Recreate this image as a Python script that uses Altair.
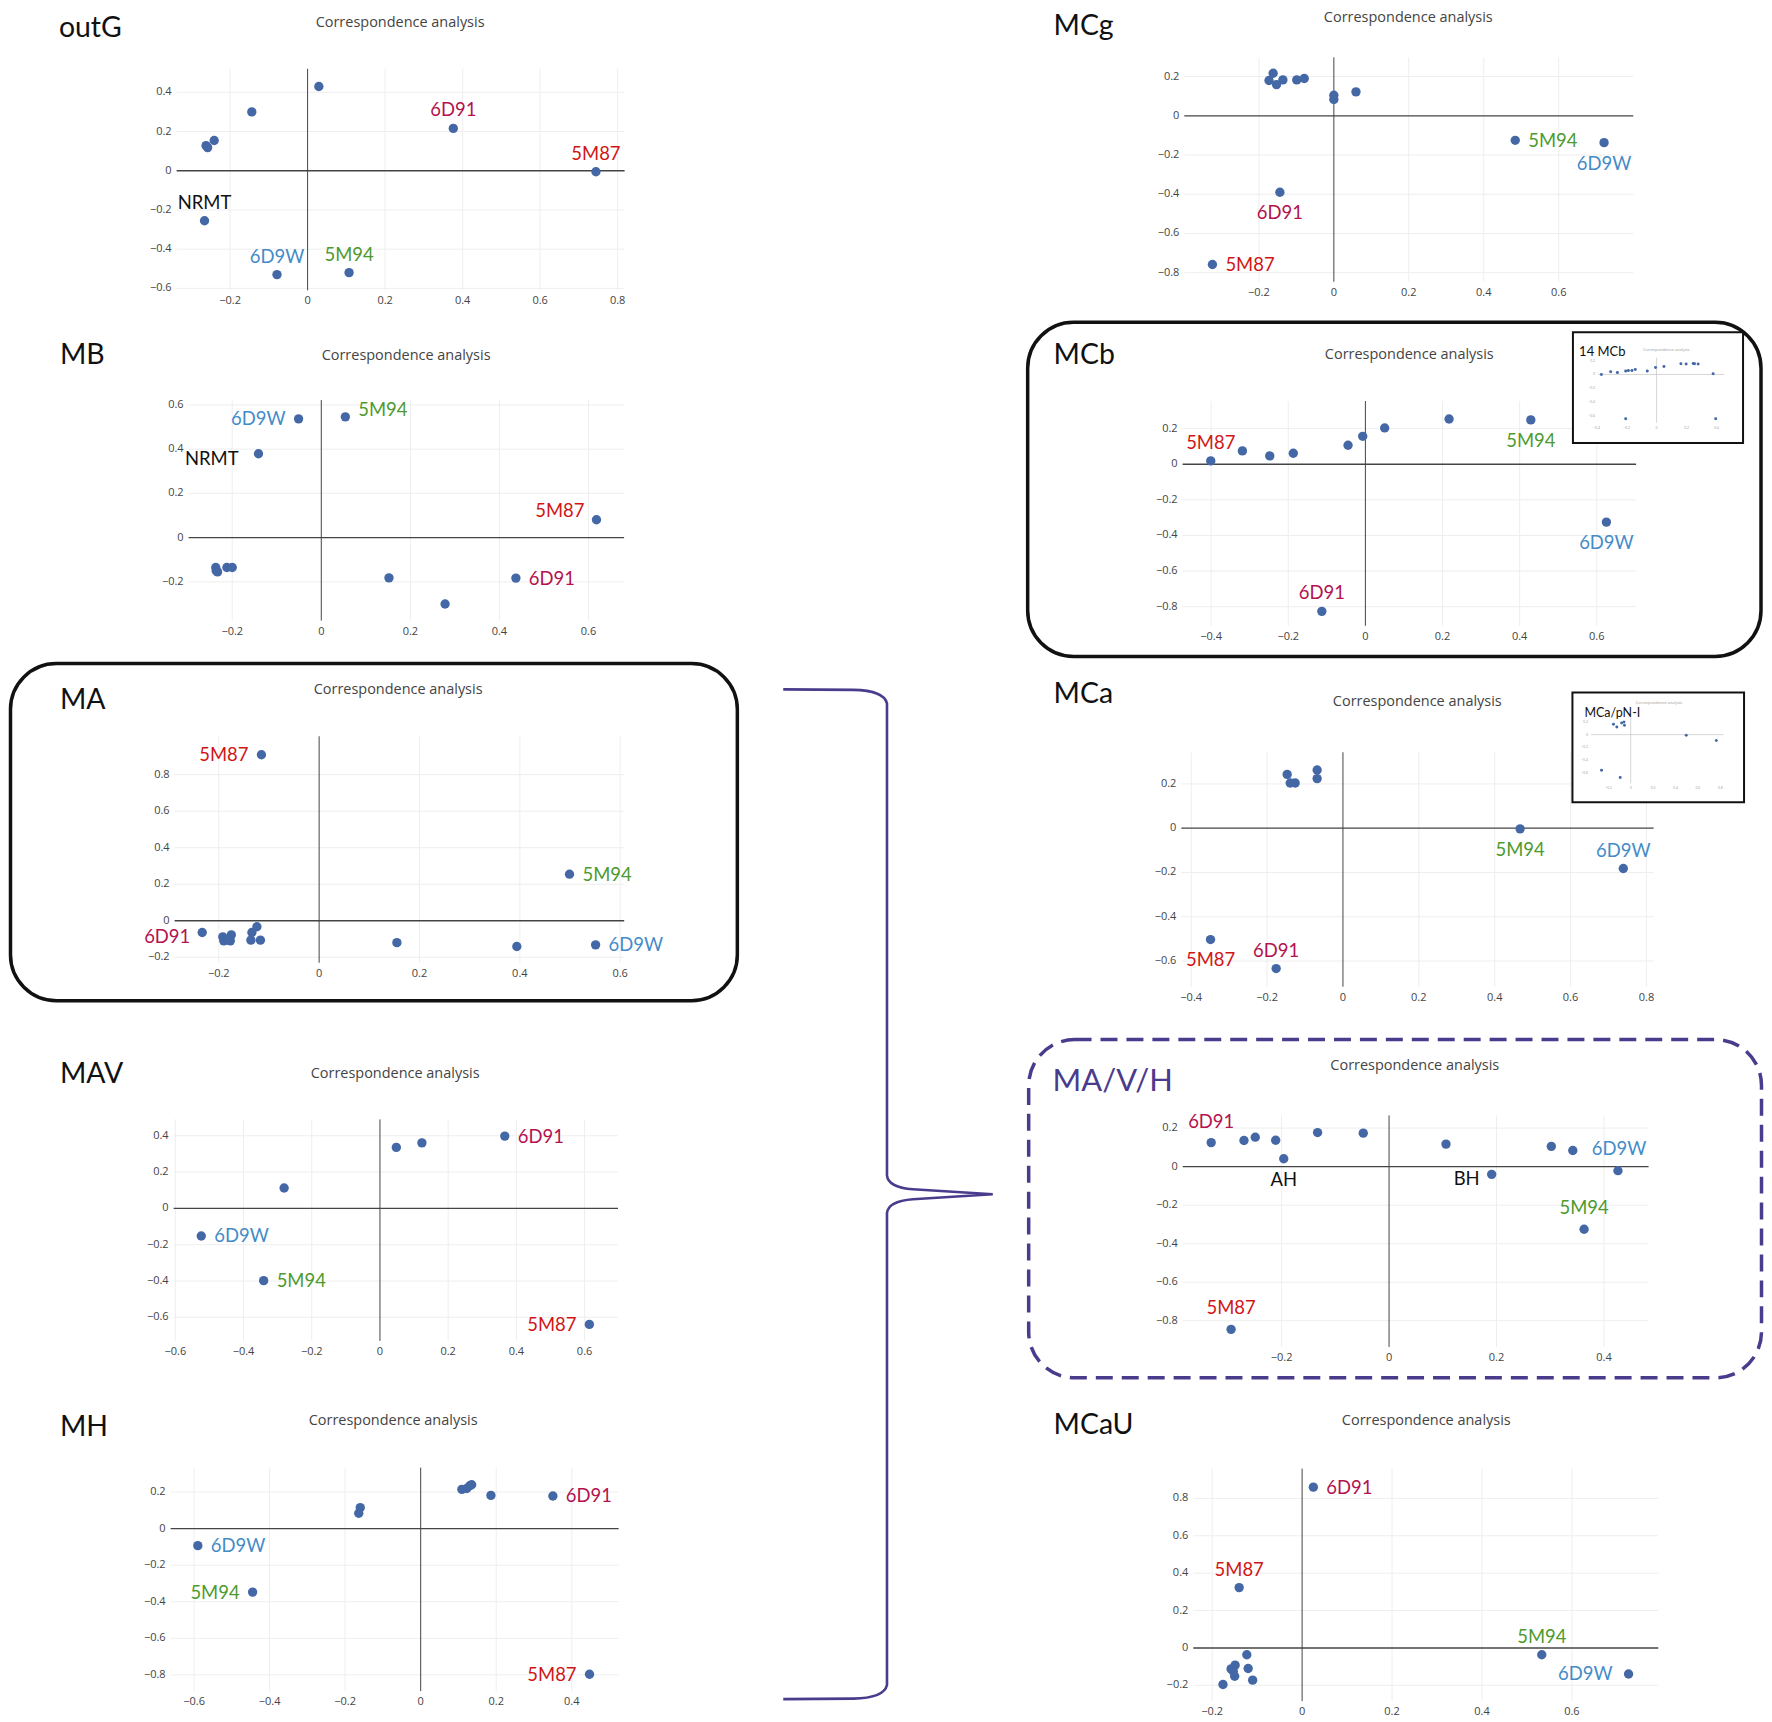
import altair as alt
import pandas as pd

# ---------------- data ----------------
outG_x = [0.029, -0.144, -0.241, -0.262, -0.258, 0.376, 0.744, -0.266, -0.079, 0.107]
outG_y = [0.430, 0.300, 0.154, 0.128, 0.118, 0.216, -0.005, -0.255, -0.530, -0.520]
outG_lab = ["", "", "", "", "", "6D91", "5M87", "NRMT", "6D9W", "5M94"]
outG_pos = ["", "", "", "", "", "t", "t", "t", "t", "t"]

MB_x = [-0.051, 0.054, -0.141, 0.618, -0.237, -0.236, -0.233, -0.212, -0.200, 0.152, 0.437, 0.278]
MB_y = [0.537, 0.546, 0.379, 0.081, -0.135, -0.150, -0.155, -0.135, -0.135, -0.182, -0.183, -0.300]
MB_lab = ["6D9W", "5M94", "NRMT", "5M87", "", "", "", "", "", "", "6D91", ""]
MB_pos = ["l", "ru", "lfar", "lu", "", "", "", "", "", "", "r", ""]

MA_x = [-0.115, 0.499, 0.551, 0.394, 0.155, -0.233, -0.192, -0.190, -0.175, -0.177, -0.124, -0.134, -0.136, -0.117]
MA_y = [0.909, 0.255, -0.132, -0.141, -0.120, -0.064, -0.088, -0.110, -0.077, -0.110, -0.033, -0.064, -0.106, -0.106]
MA_lab = ["5M87", "5M94", "6D9W", "", "", "6D91", "", "", "", "", "", "", "", ""]
MA_pos = ["l", "r", "r", "", "", "ld", "", "", "", "", "", "", "", ""]

MAV_x = [0.048, 0.123, 0.366, -0.281, -0.524, -0.341, 0.614]
MAV_y = [0.336, 0.361, 0.398, 0.112, -0.152, -0.398, -0.639]
MAV_lab = ["", "", "6D91", "", "6D9W", "5M94", "5M87"]
MAV_pos = ["", "", "r", "", "r", "r", "l"]

MH_x = [0.109, 0.122, 0.130, 0.135, 0.186, 0.350, -0.160, -0.164, -0.590, -0.445, 0.447]
MH_y = [0.215, 0.220, 0.235, 0.240, 0.182, 0.179, 0.115, 0.084, -0.093, -0.347, -0.797]
MH_lab = ["", "", "", "", "", "6D91", "", "", "6D9W", "5M94", "5M87"]
MH_pos = ["", "", "", "", "", "r", "", "", "r", "l", "l"]

MCg_x = [-0.162, -0.173, -0.153, -0.136, -0.099, -0.079, 0.000, 0.000, 0.059, 0.484, 0.721, -0.144, -0.324]
MCg_y = [0.217, 0.180, 0.159, 0.183, 0.183, 0.190, 0.105, 0.083, 0.122, -0.125, -0.137, -0.390, -0.758]
MCg_lab = ["", "", "", "", "", "", "", "", "", "5M94", "6D9W", "6D91", "5M87"]
MCg_pos = ["", "", "", "", "", "", "", "", "", "r", "b", "b", "r"]

MCb_x = [-0.401, -0.319, -0.248, -0.187, -0.045, -0.007, 0.050, 0.217, 0.429, 0.625, -0.113]
MCb_y = [0.019, 0.075, 0.047, 0.062, 0.107, 0.157, 0.204, 0.254, 0.249, -0.325, -0.826]
MCb_lab = ["5M87", "", "", "", "", "", "", "", "5M94", "6D9W", "6D91"]
MCb_pos = ["t", "", "", "", "", "", "", "", "b", "b", "t"]

MCa_x = [-0.147, -0.139, -0.126, -0.068, -0.068, 0.467, 0.739, -0.349, -0.176]
MCa_y = [0.243, 0.204, 0.204, 0.263, 0.224, -0.003, -0.182, -0.503, -0.634]
MCa_lab = ["", "", "", "", "", "5M94", "6D9W", "5M87", "6D91"]
MCa_pos = ["", "", "", "", "", "b", "t", "b", "t"]

MAVH_x = [-0.331, -0.270, -0.249, -0.211, -0.196, -0.133, -0.048, 0.106, 0.191, 0.302, 0.342, 0.426, 0.363, -0.294]
MAVH_y = [0.125, 0.136, 0.153, 0.137, 0.041, 0.177, 0.174, 0.117, -0.040, 0.105, 0.084, -0.021, -0.325, -0.845]
MAVH_lab = ["6D91", "", "", "", "AH", "", "", "", "BH", "", "6D9W", "", "5M94", "5M87"]
MAVH_pos = ["t2", "", "", "", "b", "", "", "", "ld", "", "r2", "", "t2", "t2"]

MCaU_x = [0.025, -0.140, 0.533, 0.726, -0.123, -0.158, -0.149, -0.150, -0.120, -0.110, -0.176, -0.153]
MCaU_y = [0.860, 0.323, -0.036, -0.139, -0.036, -0.112, -0.092, -0.151, -0.110, -0.172, -0.195, -0.125]
MCaU_lab = ["6D91", "5M87", "5M94", "6D9W", "", "", "", "", "", "", "", ""]
MCaU_pos = ["r", "t", "t", "l2", "", "", "", "", "", "", "", ""]

# inset thumbnails
inMCb_x = [-0.368, -0.306, -0.261, -0.206, -0.188, -0.164, -0.142, -0.062, -0.007, 0.049, 0.162, 0.197, 0.244, 0.253, 0.277, 0.377, -0.206, 0.394]
inMCb_y = [0.000, 0.038, 0.029, 0.048, 0.057, 0.057, 0.072, 0.048, 0.100, 0.115, 0.153, 0.149, 0.158, 0.153, 0.149, 0.010, -0.637, -0.637]
inMCa_x = [-0.154, -0.124, -0.081, -0.060, -0.056, 0.496, 0.765, -0.261, -0.094]
inMCa_y = [0.162, 0.120, 0.183, 0.199, 0.146, -0.010, -0.094, -0.560, -0.675]

TITLE = "Correspondence analysis"

# ---------------- styles / layout ----------------
LBL_FONT = "Lato"
AX_FONT = "Open Sans"
PT = "#4468a6"
ZERO = "#444444"
GRID = "#eeeeee"
PURPLE = "#4b3b8c"
NAME_COLORS = {"6D91": "#b3124e", "5M87": "#d11515", "6D9W": "#448bc8",
               "5M94": "#4d9a2e", "NRMT": "#111111", "AH": "#111111", "BH": "#111111"}
ANCHORS = {
    "t": ("center", 0, -12), "t2": ("center", 0, -15), "b": ("center", 0, 27),
    "r": ("left", 13, 6.5), "r2": ("left", 19, 4.5), "l": ("right", -13, 6.5),
    "l2": ("right", -16, 6.5), "ru": ("left", 13, -1), "lu": ("right", -12, -3),
    "ld": ("right", -12, 10.5), "lfar": ("right", -20, 11),
}
CELL_X = [8, 894]
CELL_W = [886, 870]
ROW_Y = [8, 330, 650, 1030, 1385]
ROW_H = [322, 320, 380, 355, 329]

ONE = pd.DataFrame({"k": [0]})

BRACE_PATH = ("M-0.2075,-1 L-0.069,-0.999 Q-0.0079,-0.998 -0.002,-0.972 L-0.002,-0.0375 "
              "Q0,-0.0138 0.0494,-0.0099 L0.2075,0 L0.0494,0.0099 Q0,0.0138 -0.002,0.0375 "
              "L-0.002,0.972 Q-0.0079,0.998 -0.069,0.999 L-0.2075,1")


def txt(x, y, s, ox, oy, font, size, color, align="left", baseline="alphabetic"):
    return alt.Chart(ONE).mark_text(text=s, font=font, fontSize=size, color=color,
                                    align=align, baseline=baseline).encode(
        x=alt.value(x - ox), y=alt.value(y - oy))


def box(x1, y1, x2, y2, ox, oy, color, r=46, sw=3.5, dash=None, fill=None):
    kw = dict(cornerRadius=r, stroke=color, strokeWidth=sw)
    if dash:
        kw["strokeDash"] = dash
    if fill:
        kw["fill"] = fill
        kw["fillOpacity"] = 1
    else:
        kw["fillOpacity"] = 0
    return alt.Chart(ONE).mark_rect(**kw).encode(
        x=alt.value(x1 - ox), x2=alt.value(x2 - ox), y=alt.value(y1 - oy), y2=alt.value(y2 - oy))


def tick_layers(xt, yt, x0, y0, X, Y, size, color, pad):
    """Tick labels drawn through the panel's scales (plotly style, no tick marks)."""
    dx_ = pd.DataFrame({"v": xt}); dx_["a"] = y0
    dy_ = pd.DataFrame({"v": yt}); dy_["a"] = x0
    return [
        alt.Chart(dx_).mark_text(font=AX_FONT, fontSize=size, color=color, baseline="top",
                                 dy=pad).encode(x=X("v"), y=Y("a"), text=alt.Text("v:Q", format="~g")),
        alt.Chart(dy_).mark_text(font=AX_FONT, fontSize=size, color=color, align="right",
                                 baseline="middle", dx=-pad).encode(
            x=X("a"), y=Y("v"), text=alt.Text("v:Q", format="~g")),
    ]


def make_inset(ins, px, py, ox, oy):
    bx1, by1, bx2, by2 = ins["box"]
    xl, xr = ins["xr"]
    yb, yt = ins["yr"]
    x0, x1 = ins["xdom"]
    y0, y1 = ins["ydom"]
    xsc = alt.Scale(domain=[x0, x1], range=[xl - ox, xr - ox], nice=False, zero=False)
    ysc = alt.Scale(domain=[y0, y1], range=[yb - oy, yt - oy], nice=False, zero=False)
    X = lambda f: alt.X(f, type="quantitative", scale=xsc, axis=None)
    Y = lambda f: alt.Y(f, type="quantitative", scale=ysc, axis=None)
    layers = [box(bx1, by1, bx2, by2, ox, oy, "#111111", r=0, sw=2, fill="white")]
    layers.append(alt.Chart(pd.DataFrame({"v": [0], "a": [y0], "b": [y1]})).mark_rule(
        color="#c4c4c4", strokeWidth=0.7).encode(x=X("v"), y=Y("a"), y2="b:Q"))
    layers.append(alt.Chart(pd.DataFrame({"v": [0], "a": [x0], "b": [x1]})).mark_rule(
        color="#c4c4c4", strokeWidth=0.7).encode(y=Y("v"), x=X("a"), x2="b:Q"))
    layers.append(alt.Chart(pd.DataFrame({"x": px, "y": py})).mark_circle(opacity=1).encode(
        x=X("x"), y=Y("y"), size=alt.value(9), color=alt.value(PT)))
    layers += tick_layers(ins["xt"], ins["yt"], x0, y0, X, Y, 3.5, "#999999", 3)
    nx, ny = ins["name_at"]
    layers.append(txt(nx, ny, ins["name"], ox, oy, LBL_FONT, ins["name_size"], "#111111"))
    tx, ty = ins["title_at"]
    layers.append(txt(tx, ty, TITLE, ox, oy, AX_FONT, 4, "#999999", align="center", baseline="middle"))
    return alt.layer(*layers)


def make_panel(spec, xs, ys, labs, poss):
    col, row = spec["cell"]
    ox, oy = CELL_X[col], ROW_Y[row]
    W, H = CELL_W[col], ROW_H[row]
    L, R, T, B = spec["rect"]
    L, R, T, B = L - ox, R - ox, T - oy, B - oy
    x0, x1 = spec["xdom"]
    y0, y1 = spec["ydom"]
    xsc = alt.Scale(domain=[x0, x1], range=[L, R], nice=False, zero=False)
    ysc = alt.Scale(domain=[y0, y1], range=[B, T], nice=False, zero=False)
    X = lambda f: alt.X(f, type="quantitative", scale=xsc, axis=None)
    Y = lambda f: alt.Y(f, type="quantitative", scale=ysc, axis=None)

    gx = pd.DataFrame({"v": [t for t in spec["xt"] if t != 0]}); gx["a"] = y0; gx["b"] = y1
    gy = pd.DataFrame({"v": [t for t in spec["yt"] if t != 0]}); gy["a"] = x0; gy["b"] = x1
    layers = [
        alt.Chart(gx).mark_rule(color=GRID, strokeWidth=1).encode(x=X("v"), y=Y("a"), y2="b:Q"),
        alt.Chart(gy).mark_rule(color=GRID, strokeWidth=1).encode(y=Y("v"), x=X("a"), x2="b:Q"),
        alt.Chart(pd.DataFrame({"v": [0], "a": [y0], "b": [y1]})).mark_rule(
            color=ZERO, strokeWidth=1).encode(x=X("v"), y=Y("a"), y2="b:Q"),
        alt.Chart(pd.DataFrame({"v": [0], "a": [x0], "b": [x1]})).mark_rule(
            color=ZERO, strokeWidth=1.3).encode(y=Y("v"), x=X("a"), x2="b:Q"),
    ]
    layers += tick_layers(spec["xt"], spec["yt"], x0, y0, X, Y, 11, "#444444", 5)
    df = pd.DataFrame({"x": xs, "y": ys, "label": labs, "pos": poss})
    df["col"] = df["label"].map(NAME_COLORS).fillna("#111111")
    layers.append(alt.Chart(df[["x", "y"]]).mark_circle(opacity=1).encode(
        x=X("x"), y=Y("y"), size=alt.value(88), color=alt.value(PT)))
    for key in sorted(set(poss) - {""}):
        align, dx, dy = ANCHORS[key]
        sub = df[df["pos"] == key].reset_index(drop=True)
        layers.append(alt.Chart(sub).mark_text(align=align, baseline="alphabetic", dx=dx, dy=dy,
                                               font=LBL_FONT, fontSize=18.5).encode(
            x=X("x"), y=Y("y"), text="label:N", color=alt.Color("col:N", scale=None)))
    tx, ty = spec["title_at"]
    layers.append(txt(tx, ty, TITLE, ox, oy, AX_FONT, 14.5, "#444444", align="center", baseline="middle"))
    nx, ny = spec["name_at"]
    layers.append(txt(nx, ny, spec["name"], ox, oy, LBL_FONT, spec.get("name_size", 28.5),
                      spec.get("name_color", "#111111")))
    for kind, args in spec.get("extras", []):
        if kind == "box":
            layers.append(box(*args[:4], ox, oy, args[4], dash=args[5] if len(args) > 5 else None))
        elif kind == "brace":
            cx, cy, h = args
            layers.append(alt.Chart(ONE).mark_point(shape=BRACE_PATH, filled=False,
                                                    strokeWidth=2.6, opacity=1).encode(
                x=alt.value(cx - ox), y=alt.value(cy - oy), size=alt.value(h * h),
                color=alt.value(PURPLE)))
    main = alt.layer(*layers)
    if "inset" in spec:
        ins, px, py = spec["inset"]
        main = alt.layer(main, make_inset(ins, px, py, ox, oy)).resolve_scale(
            x="independent", y="independent")
    return main.properties(width=W, height=H)


INSET_MCB = dict(box=(1576.5, 331, 1747, 442), xr=(1601.7, 1728.3), yr=(421.7, 356.6),
                 xdom=(-0.39, 0.452), ydom=(-0.695, 0.24),
                 xt=[-0.4, -0.2, 0, 0.2, 0.4], yt=[-0.6, -0.4, -0.2, 0, 0.2],
                 name="14 MCb", name_size=13, name_at=(1582.7, 355), title_at=(1670, 349))
INSET_MCA = dict(box=(1576, 692, 1748, 802), xr=(1594.6, 1727.4), yr=(783.3, 716.7),
                 xdom=(-0.355, 0.829), ydom=(-0.769, 0.277),
                 xt=[-0.2, 0, 0.2, 0.4, 0.6, 0.8], yt=[-0.6, -0.4, -0.2, 0, 0.2],
                 name="MCa/pN-I", name_size=12.5, name_at=(1588, 717), title_at=(1662.7, 703))

SPECS = [
    (dict(name="outG", cell=(0, 0), rect=(177, 626, 67, 289), xdom=(-0.338, 0.818), ydom=(-0.61, 0.52),
          xt=[-0.2, 0, 0.2, 0.4, 0.6, 0.8], yt=[-0.6, -0.4, -0.2, 0, 0.2, 0.4],
          title_at=(401, 21), name_at=(59, 35)),
     outG_x, outG_y, outG_lab, outG_pos),
    (dict(name="MCg", cell=(1, 0), rect=(1187, 1637, 55.5, 280.4), xdom=(-0.399, 0.799), ydom=(-0.846, 0.298),
          xt=[-0.2, 0, 0.2, 0.4, 0.6], yt=[-0.8, -0.6, -0.4, -0.2, 0, 0.2],
          title_at=(1411.5, 16), name_at=(1056, 33)),
     MCg_x, MCg_y, MCg_lab, MCg_pos),
    (dict(name="MB", cell=(0, 1), rect=(189, 625.5, 399, 620), xdom=(-0.298, 0.68), ydom=(-0.375, 0.622),
          xt=[-0.2, 0, 0.2, 0.4, 0.6], yt=[-0.2, 0, 0.2, 0.4, 0.6],
          title_at=(407, 355), name_at=(60, 363)),
     MB_x, MB_y, MB_lab, MB_pos),
    (dict(name="MCb", cell=(1, 1), rect=(1185.3, 1639.8, 400, 625.2), xdom=(-0.474, 0.702), ydom=(-0.907, 0.355),
          xt=[-0.4, -0.2, 0, 0.2, 0.4, 0.6], yt=[-0.8, -0.6, -0.4, -0.2, 0, 0.2],
          title_at=(1412.5, 353.5), name_at=(1056, 363),
          extras=[("box", (1030, 321, 1765, 656, "#111111"))],
          inset=(INSET_MCB, inMCb_x, inMCb_y)),
     MCb_x, MCb_y, MCb_lab, MCb_pos),
    (dict(name="MA", cell=(0, 2), rect=(175, 625.6, 736, 963), xdom=(-0.288, 0.608), ydom=(-0.23, 1.01),
          xt=[-0.2, 0, 0.2, 0.4, 0.6], yt=[-0.2, 0, 0.2, 0.4, 0.6, 0.8],
          title_at=(399, 690), name_at=(60, 709),
          extras=[("box", (10.5, 663, 739, 1001, "#111111"))]),
     MA_x, MA_y, MA_lab, MA_pos),
    (dict(name="MCa", cell=(1, 2), rect=(1184, 1657.4, 752, 987), xdom=(-0.426, 0.819), ydom=(-0.716, 0.343),
          xt=[-0.4, -0.2, 0, 0.2, 0.4, 0.6, 0.8], yt=[-0.6, -0.4, -0.2, 0, 0.2],
          title_at=(1420.5, 702), name_at=(1056, 703),
          inset=(INSET_MCA, inMCa_x, inMCa_y)),
     MCa_x, MCa_y, MCa_lab, MCa_pos),
    (dict(name="MAV", cell=(0, 3), rect=(174, 619.4, 1120, 1342), xdom=(-0.605, 0.698), ydom=(-0.73, 0.49),
          xt=[-0.6, -0.4, -0.2, 0, 0.2, 0.4, 0.6], yt=[-0.6, -0.4, -0.2, 0, 0.2, 0.4],
          title_at=(396, 1074), name_at=(60, 1084),
          extras=[("brace", (890, 1195, 1012))]),
     MAV_x, MAV_y, MAV_lab, MAV_pos),
    (dict(name="MA/V/H", cell=(1, 3), rect=(1185.4, 1652.3, 1116, 1348), xdom=(-0.384, 0.483), ydom=(-0.936, 0.266),
          xt=[-0.2, 0, 0.2, 0.4], yt=[-0.8, -0.6, -0.4, -0.2, 0, 0.2],
          title_at=(1418, 1066), name_at=(1055, 1092), name_size=31, name_color=PURPLE,
          extras=[("box", (1031, 1040, 1765.5, 1379, PURPLE, [17, 9]))]),
     MAVH_x, MAVH_y, MAVH_lab, MAVH_pos),
    (dict(name="MH", cell=(0, 4), rect=(171, 620, 1469, 1693), xdom=(-0.662, 0.524), ydom=(-0.889, 0.334),
          xt=[-0.6, -0.4, -0.2, 0, 0.2, 0.4], yt=[-0.8, -0.6, -0.4, -0.2, 0, 0.2],
          title_at=(394, 1422), name_at=(60, 1437)),
     MH_x, MH_y, MH_lab, MH_pos),
    (dict(name="MCaU", cell=(1, 4), rect=(1196, 1662, 1470, 1703), xdom=(-0.242, 0.792), ydom=(-0.284, 0.959),
          xt=[-0.2, 0, 0.2, 0.4, 0.6], yt=[-0.2, 0, 0.2, 0.4, 0.6, 0.8],
          title_at=(1429.5, 1422), name_at=(1056, 1435)),
     MCaU_x, MCaU_y, MCaU_lab, MCaU_pos),
]

cells = [make_panel(*s) for s in SPECS]

chart = alt.concat(*cells, columns=2, spacing=0, bounds="flush", align="each").properties(
    padding=0, background="white").configure_view(stroke=None)

chart.save("out.html", embed_options={"renderer": "svg", "actions": False})
